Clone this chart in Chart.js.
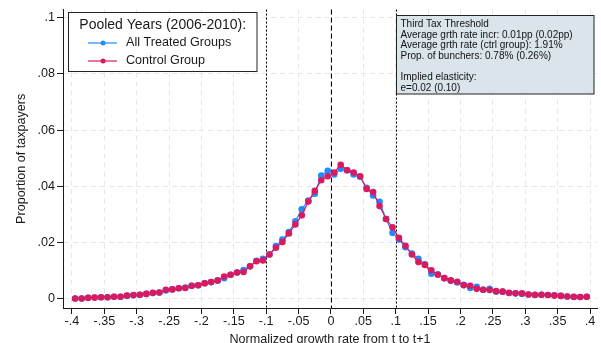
<!DOCTYPE html>
<html>
<head>
<meta charset="utf-8">
<script src="https://cdn.jsdelivr.net/npm/chart.js@4.4.1/dist/chart.umd.min.js"></script>
<style>
  body { margin: 0; background: #fff; }
</style>
</head>
<body>
<canvas id="bunchChart" width="601" height="343"></canvas>
<script>
// bin midpoints of the normalized growth rate
const growthBins = [
  -0.395, -0.385, -0.375, -0.365, -0.355, -0.345, -0.335, -0.325, -0.315, -0.305,
  -0.295, -0.285, -0.275, -0.265, -0.255, -0.245, -0.235, -0.225, -0.215, -0.205,
  -0.195, -0.185, -0.175, -0.165, -0.155, -0.145, -0.135, -0.125, -0.115, -0.105,
  -0.095, -0.085, -0.075, -0.065, -0.055, -0.045, -0.035, -0.025, -0.015, -0.005,
  0.005, 0.015, 0.025, 0.035, 0.045, 0.055, 0.065, 0.075, 0.085, 0.095,
  0.105, 0.115, 0.125, 0.135, 0.145, 0.155, 0.165, 0.175, 0.185, 0.195,
  0.205, 0.215, 0.225, 0.235, 0.245, 0.255, 0.265, 0.275, 0.285, 0.295,
  0.305, 0.315, 0.325, 0.335, 0.345, 0.355, 0.365, 0.375, 0.385, 0.395
];

const treatedShares = [
  0.0002, 0.0002, 0.0004, 0.0005, 0.0006, 0.0006, 0.0008, 0.0008, 0.0011, 0.0013,
  0.0015, 0.0018, 0.0021, 0.0023, 0.0030, 0.0034, 0.0038, 0.0041, 0.0047, 0.0049,
  0.0056, 0.0060, 0.0065, 0.0074, 0.0086, 0.0094, 0.0103, 0.0116, 0.0136, 0.0143,
  0.0158, 0.0188, 0.0211, 0.0238, 0.0276, 0.0319, 0.0350, 0.0374, 0.0438, 0.0455,
  0.0442, 0.0463, 0.0457, 0.0442, 0.0434, 0.0395, 0.0368, 0.0345, 0.0284, 0.0235,
  0.0211, 0.0184, 0.0161, 0.0143, 0.0123, 0.0090, 0.0088, 0.0074, 0.0065, 0.0059,
  0.0050, 0.0039, 0.0043, 0.0033, 0.0036, 0.0026, 0.0026, 0.0021, 0.0020, 0.0018,
  0.0016, 0.0014, 0.0015, 0.0014, 0.0013, 0.0011, 0.0009, 0.0007, 0.0007, 0.0008
];

const controlShares = [
  0.0002, 0.0002, 0.0004, 0.0005, 0.0006, 0.0006, 0.0008, 0.0008, 0.0012, 0.0014,
  0.0015, 0.0018, 0.0022, 0.0023, 0.0033, 0.0034, 0.0038, 0.0039, 0.0047, 0.0049,
  0.0056, 0.0060, 0.0066, 0.0080, 0.0086, 0.0094, 0.0096, 0.0116, 0.0134, 0.0137,
  0.0158, 0.0182, 0.0202, 0.0233, 0.0265, 0.0297, 0.0346, 0.0384, 0.0422, 0.0436,
  0.0449, 0.0477, 0.0457, 0.0449, 0.0436, 0.0391, 0.0380, 0.0330, 0.0284, 0.0255,
  0.0217, 0.0189, 0.0158, 0.0131, 0.0121, 0.0102, 0.0086, 0.0074, 0.0066, 0.0061,
  0.0049, 0.0047, 0.0036, 0.0033, 0.0032, 0.0028, 0.0026, 0.0022, 0.0020, 0.0020,
  0.0016, 0.0015, 0.0015, 0.0014, 0.0012, 0.0011, 0.0009, 0.0008, 0.0007, 0.0008
];

const xTicks = [-0.4, -0.35, -0.3, -0.25, -0.2, -0.15, -0.1, -0.05, 0,
  0.05, 0.1, 0.15, 0.2, 0.25, 0.3, 0.35, 0.4];
const yTicks = [0, 0.02, 0.04, 0.06, 0.08, 0.1];
const thresholdLines = [-0.1, 0, 0.1];

const seriesNames = ['All Treated Groups', 'Control Group'];
const legendTitle = 'Pooled Years (2006-2010):';
const noteLines = [
  'Third Tax Threshold',
  'Average grth rate incr: 0.01pp (0.02pp)',
  'Average grth rate (ctrl group): 1.91%',
  'Prop. of bunchers: 0.78% (0.26%)',
  '',
  'Implied elasticity:',
  'e=0.02 (0.10)'
];

const FONT = '"Liberation Sans", Arial, sans-serif';
const BLUE = '#1e8cff';
const RED = '#d81b60';
const INK = '#1a1a1a';

// ".05" / "-.35" style labels, no leading zero
function shortLabel(v) {
  if (Math.abs(v) < 1e-9) return '0';
  const s = String(Math.round(v * 1000) / 1000);
  return s.replace(/^(-?)0\./, '$1.');
}

function toPoints(values) {
  return growthBins.map((x, i) => ({ x: x, y: values[i] }));
}

const overlays = {
  id: 'overlays',
  beforeDatasetsDraw(chart) {
    const { ctx, chartArea, scales } = chart;
    ctx.save();
    ctx.strokeStyle = '#000';
    ctx.lineWidth = 1;
    thresholdLines.forEach(v => {
      const px = Math.round(scales.x.getPixelForValue(v)) + 0.5;
      ctx.setLineDash(v === 0 ? [5, 3] : [2, 2]);
      ctx.beginPath();
      ctx.moveTo(px, chartArea.top);
      ctx.lineTo(px, chartArea.bottom);
      ctx.stroke();
    });
    ctx.restore();
  },
  afterDraw(chart) {
    const { ctx } = chart;
    ctx.save();
    ctx.setLineDash([]);

    // legend box, top left
    ctx.fillStyle = '#fff';
    ctx.strokeStyle = '#222';
    ctx.lineWidth = 1;
    ctx.fillRect(68.5, 12.5, 188.5, 59);
    ctx.strokeRect(68.5, 12.5, 188.5, 59);
    ctx.fillStyle = INK;
    ctx.textBaseline = 'middle';
    ctx.textAlign = 'center';
    ctx.font = '14px ' + FONT;
    ctx.fillText(legendTitle, 162.7, 25.5);
    ctx.textAlign = 'left';
    ctx.font = '12.6px ' + FONT;
    [BLUE, RED].forEach((c, i) => {
      const y = 43 + i * 18;
      ctx.strokeStyle = c;
      ctx.lineWidth = 1.2;
      ctx.beginPath();
      ctx.moveTo(88, y);
      ctx.lineTo(117, y);
      ctx.stroke();
      ctx.fillStyle = c;
      ctx.beginPath();
      ctx.arc(103, y, 2.5, 0, Math.PI * 2);
      ctx.fill();
      ctx.fillStyle = INK;
      ctx.fillText(seriesNames[i], 126, y);
    });

    // note box, top right
    ctx.fillStyle = '#dae5eb';
    ctx.strokeStyle = '#222';
    ctx.lineWidth = 1;
    ctx.fillRect(396.5, 15.5, 197.5, 78.5);
    ctx.strokeRect(396.5, 15.5, 197.5, 78.5);
    ctx.fillStyle = '#111';
    ctx.font = '10px ' + FONT;
    noteLines.forEach((t, i) => {
      ctx.fillText(t, 400.5, 24.5 + i * 10.6);
    });
    ctx.restore();
  }
};

const ctx = document.getElementById('bunchChart');

new Chart(ctx, {
  type: 'line',
  data: {
    datasets: [{
      label: seriesNames[0],
      data: toPoints(treatedShares),
      borderColor: BLUE,
      backgroundColor: BLUE,
      borderWidth: 1.2,
      pointRadius: 3.3,
      pointBorderWidth: 0,
      tension: 0,
      order: 1
    }, {
      label: seriesNames[1],
      data: toPoints(controlShares),
      borderColor: RED,
      backgroundColor: RED,
      borderWidth: 1.2,
      pointRadius: 3.3,
      pointBorderWidth: 0,
      tension: 0,
      order: 0
    }]
  },
  options: {
    responsive: false,
    animation: false,
    layout: { padding: { left: 0, right: 2, top: 8, bottom: 0 } },
    plugins: {
      legend: { display: false },
      tooltip: { enabled: false }
    },
    scales: {
      x: {
        type: 'linear',
        min: -0.4138,
        max: 0.4108,
        afterBuildTicks: scale => { scale.ticks = xTicks.map(v => ({ value: v })); },
        afterFit: scale => { scale.height = 35; },
        ticks: {
          callback: v => shortLabel(v),
          font: { family: FONT, size: 12.6 },
          color: INK,
          padding: 0,
          maxRotation: 0,
          autoSkip: false
        },
        grid: { color: '#e6e6e6', tickColor: INK, tickLength: 6, lineWidth: 1 },
        border: { color: INK, width: 1, dash: [5, 4] },
        title: {
          display: true,
          text: 'Normalized growth rate from t to t+1',
          font: { family: FONT, size: 12.6 },
          color: INK,
          padding: { top: 0, bottom: -4.5 }
        }
      },
      y: {
        type: 'linear',
        min: -0.0032,
        max: 0.1028,
        afterBuildTicks: scale => { scale.ticks = yTicks.map(v => ({ value: v })); },
        afterFit: scale => { scale.width = 63; },
        ticks: {
          callback: v => shortLabel(v),
          font: { family: FONT, size: 12.6 },
          color: INK,
          padding: 2
        },
        grid: { color: '#e6e6e6', tickColor: INK, tickLength: 6, lineWidth: 1 },
        border: { color: INK, width: 1, dash: [5, 4] },
        title: {
          display: true,
          text: 'Proportion of taxpayers',
          font: { family: FONT, size: 12.6 },
          color: INK,
          padding: { top: 14, bottom: 0 }
        }
      }
    }
  },
  plugins: [overlays]
});
</script>
</body>
</html>
